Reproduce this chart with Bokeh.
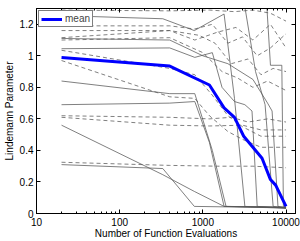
from bokeh.plotting import figure
from bokeh.models import FixedTicker, LogAxis, LinearAxis
from bokeh.embed import file_html
from bokeh.resources import INLINE

# ---------------- data ----------------
x_ticks = [10, 100, 1000, 10000]
x_tick_labels = ["10", "100", "1000", "10000"]
y_ticks = [0, 0.2, 0.4, 0.6, 0.8, 1.0, 1.2]
y_tick_labels = ["0", "0.2", "0.4", "0.6", "0.8", "1", "1.2"]

mean_x = [20, 400, 1200, 1800, 2400, 3100, 5150, 6500, 7500, 10000]
mean_y = [0.99, 0.935, 0.815, 0.67, 0.61, 0.49, 0.35, 0.215, 0.18, 0.045]

# solid runs
s1_x = [20, 330, 790, 3400, 10000]
s1_y = [0.31, 0.285, 0.045, 0.04, 0.035]
s2_x = [20, 330, 790, 1800, 10000]
s2_y = [0.56, 0.246, 0.14, 0.045, 0.035]
s3_x = [20, 400, 800, 1200, 1800, 10000]
s3_y = [0.69, 0.70, 0.71, 0.45, 0.045, 0.04]
s4_x = [20, 400, 800, 1300, 1900, 10000]
s4_y = [0.84, 0.76, 0.76, 0.40, 0.045, 0.04]
s5_x = [20, 400, 800, 1300, 1700, 2400, 3200, 3900, 4500, 10000]
s5_y = [1.045, 1.05, 0.99, 1.02, 0.80, 0.71, 0.69, 0.65, 0.045, 0.035]
s6_x = [20, 330, 790, 1800, 2400, 3200, 10000]
s6_y = [1.255, 1.235, 1.16, 1.265, 0.73, 0.045, 0.035]
s7_x = [20, 400, 1000, 2000, 4000, 6000, 6800, 8000, 10000]
s7_y = [1.11, 1.10, 1.00, 0.95, 0.85, 0.70, 0.65, 0.045, 0.035]
s8_x = [20, 1200, 3200, 4300, 5600, 7000, 10000]
s8_y = [1.40, 1.38, 1.31, 0.90, 0.69, 0.045, 0.035]
s9_x = [20, 2000, 5900, 6500, 8900, 9300, 10000]
s9_y = [1.40, 1.38, 1.30, 0.94, 0.94, 0.045, 0.04]

# dashed runs
da_x = [20, 400, 1200, 2400, 4000, 6500, 10000]
da_y = [1.29, 1.285, 1.29, 1.28, 1.29, 1.27, 1.22]
db_x = [20, 400, 800, 1300, 2000, 3000, 4500, 6500, 10000]
db_y = [1.19, 1.19, 1.17, 1.20, 1.08, 1.12, 1.00, 1.05, 1.14]
dc_x = [20, 400, 800, 1500, 2500, 4000, 6500, 10000]
dc_y = [1.16, 1.16, 1.10, 1.15, 1.18, 1.10, 1.20, 1.05]
dd_x = [20, 400, 900, 1400, 2200, 3500, 5000, 7000, 10000]
dd_y = [1.115, 1.16, 1.13, 1.08, 0.95, 0.98, 0.88, 0.92, 0.90]
de_x = [20, 400, 1000, 1700, 2600, 4000, 6000, 10000]
de_y = [1.10, 1.115, 1.02, 0.90, 0.86, 0.80, 0.84, 0.78]
df_x = [20, 400, 800, 1300, 2000, 3000, 5000, 10000]
df_y = [1.035, 0.92, 0.88, 0.75, 0.62, 0.55, 0.49, 0.49]
dg_x = [20, 400, 800, 1200, 2000, 3000, 5000, 10000]
dg_y = [0.97, 0.74, 0.73, 0.62, 0.52, 0.47, 0.42, 0.42]
dh_x = [20, 400, 1200, 2200, 3500, 6000, 10000]
dh_y = [0.62, 0.61, 0.60, 0.61, 0.58, 0.60, 0.58]
di_x = [20, 400, 1200, 3000, 5000, 10000]
di_y = [0.61, 0.56, 0.555, 0.56, 0.53, 0.53]
dj_x = [20, 400, 1500, 4000, 10000]
dj_y = [0.325, 0.305, 0.30, 0.30, 0.29]

solid_runs = [(s1_x, s1_y), (s2_x, s2_y), (s3_x, s3_y), (s4_x, s4_y), (s5_x, s5_y),
              (s6_x, s6_y), (s7_x, s7_y), (s8_x, s8_y), (s9_x, s9_y)]
dashed_runs = [(da_x, da_y), (db_x, db_y), (dc_x, dc_y), (dd_x, dd_y), (de_x, de_y),
               (df_x, df_y), (dg_x, dg_y), (dh_x, dh_y), (di_x, di_y), (dj_x, dj_y)]

# ---------------- figure ----------------
FONT = "Liberation Sans"
GRAY = "#555555"

p = figure(width=300, height=241, x_axis_type="log", x_range=(10, 13000), y_range=(0, 1.3),
           output_backend="svg", toolbar_location=None,
           min_border_left=33, min_border_right=5, min_border_top=8, min_border_bottom=27)
p.grid.visible = False
p.outline_line_color = "black"
p.outline_line_width = 1
p.background_fill_color = "white"
p.border_fill_color = "white"

for xs, ys in dashed_runs:
    p.line(xs, ys, line_color=GRAY, line_width=0.75, line_dash="4 3")
for xs, ys in solid_runs:
    p.line(xs, ys, line_color=GRAY, line_width=0.75)

p.line(mean_x, mean_y, line_color="#0000ff", line_width=3, legend_label="mean")

minor = [m * d for d in (10, 100, 1000) for m in range(2, 10)]
xt = FixedTicker(ticks=x_ticks, minor_ticks=minor)
yt = FixedTicker(ticks=y_ticks, minor_ticks=[])


def style(ax, labels=True):
    ax.axis_line_color = "black"
    ax.axis_line_width = 1
    ax.major_tick_line_color = "black"
    ax.minor_tick_line_color = "black"
    ax.major_tick_in = 4
    ax.major_tick_out = 0
    ax.minor_tick_in = 2
    ax.minor_tick_out = 0
    ax.major_label_text_font = FONT
    ax.axis_label_text_font = FONT
    ax.axis_label_text_font_style = "normal"
    ax.axis_label_text_font_size = "10px"
    ax.axis_label_text_color = "black"
    if labels:
        ax.major_label_text_font_size = "10px"
        ax.major_label_text_color = "black"
    else:
        ax.major_label_text_font_size = "1px"
        ax.major_label_text_alpha = 0
        ax.major_label_standoff = 0


xa = p.xaxis[0]
xa.ticker = xt
xa.major_label_overrides = dict(zip(x_ticks, x_tick_labels))
style(xa)
xa.major_label_standoff = 4
xa.axis_label = "Number of Function Evaluations"
xa.axis_label_standoff = -1

ya = p.yaxis[0]
ya.ticker = yt
ya.major_label_overrides = dict(zip(y_ticks, y_tick_labels))
style(ya)
ya.major_label_standoff = 3
ya.axis_label = "Lindemann Parameter"
ya.axis_label_standoff = 2

top = LogAxis(ticker=xt)
style(top, labels=False)
p.add_layout(top, "above")
right = LinearAxis(ticker=yt)
style(right, labels=False)
p.add_layout(right, "right")

lg = p.legend[0]
lg.location = "top_left"
lg.margin = 2
lg.padding = 2
lg.spacing = 0
lg.border_line_color = "black"
lg.border_line_width = 0.75
lg.background_fill_alpha = 1
lg.label_text_font = FONT
lg.label_text_font_size = "10px"
lg.glyph_width = 21
lg.glyph_height = 10
lg.label_height = 10
lg.label_standoff = 3

open("out.html", "w").write(file_html(p, INLINE))
